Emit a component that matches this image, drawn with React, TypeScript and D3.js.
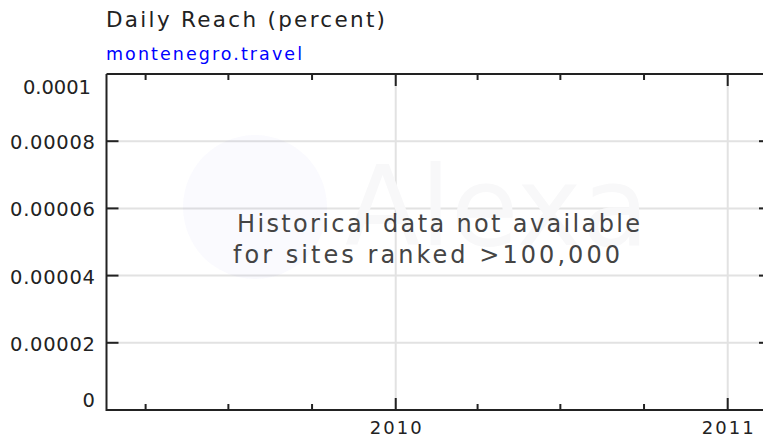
import React from "react";
import * as d3 from "d3";

const TITLE = "Daily Reach (percent)";
const SUBTITLE = "montenegro.travel";
const MESSAGE = ["Historical data not available", "for sites ranked >100,000"];
const yTicks = [0, 0.00002, 0.00004, 0.00006, 0.00008, 0.0001];
const yTickLabels = ["0", "0.00002", "0.00004", "0.00006", "0.00008", "0.0001"];
const xDomain = ["2009-02-17", "2011-02-11"];
const xMajorTicks = ["2010-01-01", "2011-01-01"];
const xMajorLabels = ["2010", "2011"];
const xMinorTicks = ["2009-04-01", "2009-07-01", "2009-10-01", "2010-04-01", "2010-07-01", "2010-10-01"];

const W = 763;
const H = 439;
const M = { left: 106.5, top: 74, right: 765, bottom: 410 };
const FONT = "'DejaVu Sans', Verdana, sans-serif";

// approximate text widths of the reference's spaced-out Flash text
const yLabelWidth = (s: string) => (s.length === 1 ? 0 : s.length === 6 ? 68 : 85);

export default function App() {
  const parse = d3.utcParse("%Y-%m-%d");
  const x = d3.scaleUtc().domain(xDomain.map((d) => parse(d)!)).range([M.left, M.right]);
  const y = d3.scaleLinear().domain([0, 0.0001]).range([M.bottom, M.top]);
  const majors = xMajorTicks.map((d) => parse(d)!);
  const minors = xMinorTicks.map((d) => parse(d)!);
  const axisColor = "#222";
  const gridColor = "#e2e2e2";

  const labelY = (v: number, i: number) => {
    if (i === 0) return y(v) - 3;
    if (i === yTicks.length - 1) return y(v) + 20;
    return y(v) + 8;
  };

  return (
    <svg width={W} height={H} style={{ position: "absolute", left: 0, top: 0, background: "#fff" }}>
      <rect x={0} y={0} width={W} height={H} fill="#fff" />
      <text x={106} y={27} fontFamily={FONT} fontSize={21.5} fill="#222" textLength={279} lengthAdjust="spacing">{TITLE}</text>
      <text x={106} y={60} fontFamily={FONT} fontSize={17.5} fill="#0000ff" textLength={196} lengthAdjust="spacing">{SUBTITLE}</text>

      {/* grid */}
      {yTicks.slice(1, -1).map((v) => (
        <line key={"gy" + v} x1={M.left} x2={M.right} y1={y(v)} y2={y(v)} stroke={gridColor} strokeWidth={2} />
      ))}
      {majors.map((d, i) => (
        <line key={"gx" + i} x1={x(d)} x2={x(d)} y1={M.top} y2={M.bottom} stroke={gridColor} strokeWidth={2} />
      ))}

      {/* watermark */}
      <text x={345} y={245} fontFamily={FONT} fontSize={110} fill="#f8f8f9">Alexa</text>
      <circle cx={255} cy={207} r={72} fill="rgba(60,60,220,0.028)" />

      {/* message */}
      {MESSAGE.map((t, i) => (
        <text key={t} x={i === 0 ? 237 : 233} y={232 + i * 31} fontFamily={FONT} fontSize={24} fill="#444"
          textLength={i === 0 ? 403 : 387} lengthAdjust="spacing">{t}</text>
      ))}

      {/* frame */}
      <line x1={M.left} x2={M.right} y1={M.top} y2={M.top} stroke={axisColor} strokeWidth={2} />
      <line x1={M.left} x2={M.right} y1={M.bottom} y2={M.bottom} stroke={axisColor} strokeWidth={2} />
      <line x1={M.left} x2={M.left} y1={M.top} y2={M.bottom + 1} stroke={axisColor} strokeWidth={2} />

      {/* y ticks */}
      {yTicks.slice(1, -1).map((v) => (
        <g key={"ty" + v}>
          <line x1={M.left} x2={M.left + 12} y1={y(v)} y2={y(v)} stroke={axisColor} strokeWidth={2} />
          <line x1={M.right - 6} x2={M.right} y1={y(v)} y2={y(v)} stroke={axisColor} strokeWidth={2} />
        </g>
      ))}
      {yTicks.map((v, i) => {
        const w = yLabelWidth(yTickLabels[i]);
        return (
          <text key={"ly" + v} x={i === yTicks.length - 1 ? 91 : 95} y={labelY(v, i)} textAnchor="end" fontFamily={FONT}
            fontSize={19.5} fill="#222" {...(w ? { textLength: w, lengthAdjust: "spacing" } : {})}>
            {yTickLabels[i]}
          </text>
        );
      })}

      {/* x ticks */}
      {majors.map((d, i) => (
        <g key={"tx" + i}>
          <line x1={x(d)} x2={x(d)} y1={M.bottom} y2={M.bottom - 12} stroke={axisColor} strokeWidth={2} />
          <line x1={x(d)} x2={x(d)} y1={M.top} y2={M.top + 12} stroke={axisColor} strokeWidth={2} />
          <text x={x(d)} y={434} textAnchor="middle" fontFamily={FONT} fontSize={18} fill="#222"
            textLength={52} lengthAdjust="spacing">{xMajorLabels[i]}</text>
        </g>
      ))}
      {minors.map((d, i) => (
        <g key={"tm" + i}>
          <line x1={x(d)} x2={x(d)} y1={M.bottom} y2={M.bottom - 6} stroke={axisColor} strokeWidth={2} />
          <line x1={x(d)} x2={x(d)} y1={M.top} y2={M.top + 6} stroke={axisColor} strokeWidth={2} />
        </g>
      ))}
    </svg>
  );
}
